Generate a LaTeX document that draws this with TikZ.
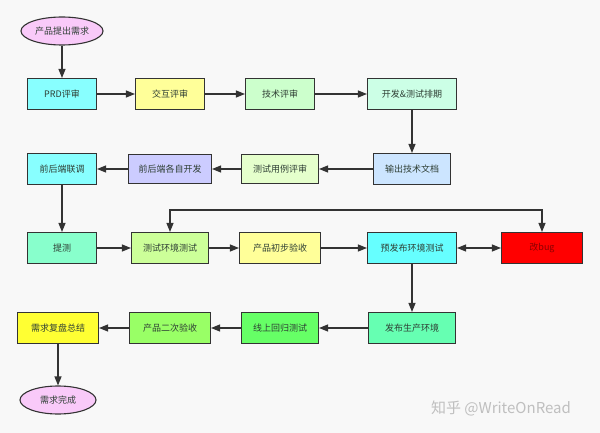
\documentclass[tikz,border=0pt]{standalone}
\usepackage{fontspec}
\newfontfamily\cjk{Noto Sans CJK SC}
\usetikzlibrary{arrows.meta,shapes.geometric}
\definecolor{bgpaper}{HTML}{F8F8F8}
\definecolor{edge}{HTML}{333333}
\definecolor{label}{HTML}{2F3F35}
\definecolor{pinkend}{HTML}{F9CAF9}
\definecolor{cyanA}{HTML}{88FFFF}
\definecolor{yellowA}{HTML}{FFFF99}
\definecolor{greenA}{HTML}{CCFFCC}
\definecolor{mintA}{HTML}{CCFFE6}
\definecolor{blueA}{HTML}{CCE5FF}
\definecolor{limeA}{HTML}{E5FFCC}
\definecolor{violetA}{HTML}{CCCCFF}
\definecolor{aquaA}{HTML}{88FFCC}
\definecolor{limeB}{HTML}{CCFF99}
\definecolor{cyanB}{HTML}{66FFFF}
\definecolor{mintB}{HTML}{66FFB2}
\definecolor{greenB}{HTML}{66FF66}
\definecolor{limeC}{HTML}{99FF66}
\definecolor{yellowB}{HTML}{FFFF33}
\begin{document}
\begin{tikzpicture}[x=1pt,y=-1pt]

			\tikzstyle{stage}=[draw=edge,line width=1.1pt,
				minimum height=31pt,inner sep=2pt,
				font=\cjk\fontsize{9}{10}\selectfont,text=label,
				align=center]
			\tikzstyle{terminal}=[stage,ellipse,fill=pinkend,
				minimum height=28pt]
			\tikzstyle{flow}=[draw=edge,line width=1.2pt,
				-{Triangle[length=9pt,width=7pt]}]

			\fill[bgpaper] (0,0) rectangle (600,433);
			\useasboundingbox (0,0) rectangle (600,433);

			% first row
			\node[terminal,minimum width=82pt]		(start)	at (62,31)	{产品提出需求};
			\node[stage,fill=cyanA,minimum width=69pt]	(prd)	at (62,94)	{PRD评审};
			\node[stage,fill=yellowA,minimum width=69pt]	(ux)	at (170,94)	{交互评审};
			\node[stage,fill=greenA,minimum width=69pt]	(tech)	at (280,94)	{技术评审};
			\node[stage,fill=mintA,minimum width=89pt]	(plan)	at (412,94)	{开发\&测试排期};

			% second row
			\node[stage,fill=blueA,minimum width=77pt]	(doc)	at (412,169)	{输出技术文档};
			\node[stage,fill=limeA,minimum width=77pt,minimum height=29pt]	(case)	at (280,169)	{测试用例评审};
			\node[stage,fill=violetA,minimum width=83pt,minimum height=29pt]	(dev)	at (170,169)	{前后端各自开发};
			\node[stage,fill=cyanA,minimum width=69pt]	(joint)	at (62,169)	{前后端联调};

			% third row
			\node[stage,fill=aquaA,minimum width=69pt]	(submit)	at (62,248)	{提测};
			\node[stage,fill=limeB,minimum width=77pt]	(test)	at (170,248)	{测试环境测试};
			\node[stage,fill=yellowA,minimum width=81pt]	(check)	at (280,248)	{产品初步验收};
			\node[stage,fill=cyanB,minimum width=89pt]	(pre)	at (412,248)	{预发布环境测试};
			\node[stage,fill=red,text=red!55!black,minimum width=81pt]	(bug)	at (542,248)	{改bug};

			% fourth row
			\node[stage,fill=mintB,minimum width=87pt]	(release)	at (412,328)	{发布生产环境};
			\node[stage,fill=greenB,minimum width=77pt]	(online)	at (280,328)	{线上回归测试};
			\node[stage,fill=limeC,minimum width=81pt]	(recheck)	at (170,328)	{产品二次验收};
			\node[stage,fill=yellowB,minimum width=81pt]	(review)	at (58,328)	{需求复盘总结};
			\node[terminal,minimum width=76pt]		(done)	at (58,400)	{需求完成};

			\draw[flow] (start) -- (prd);
			\draw[flow] (prd) -- (ux);
			\draw[flow] (ux) -- (tech);
			\draw[flow] (tech) -- (plan);
			\draw[flow] (plan) -- (doc);
			\draw[flow] (doc) -- (case);
			\draw[flow] (case) -- (dev);
			\draw[flow] (dev) -- (joint);
			\draw[flow] (joint) -- (submit);
			\draw[flow] (submit) -- (test);
			\draw[flow] (test) -- (check);
			\draw[flow] (check) -- (pre);
			\draw[flow,{Triangle[length=9pt,width=7pt]}-{Triangle[length=9pt,width=7pt]}] (pre) -- (bug);
			\draw[flow,{Triangle[length=9pt,width=7pt]}-{Triangle[length=9pt,width=7pt]}] (test.north) -- ++(0,-22) -| (bug.north);
			\draw[flow] (pre) -- (release);
			\draw[flow] (release) -- (online);
			\draw[flow] (online) -- (recheck);
			\draw[flow] (recheck) -- (review);
			\draw[flow] (review) -- (done);

			\node[font=\cjk\fontsize{15}{16}\selectfont,text=black!25] (mark) at (501,408) {知乎 @WriteOnRead};

		\end{tikzpicture}
\end{document}
